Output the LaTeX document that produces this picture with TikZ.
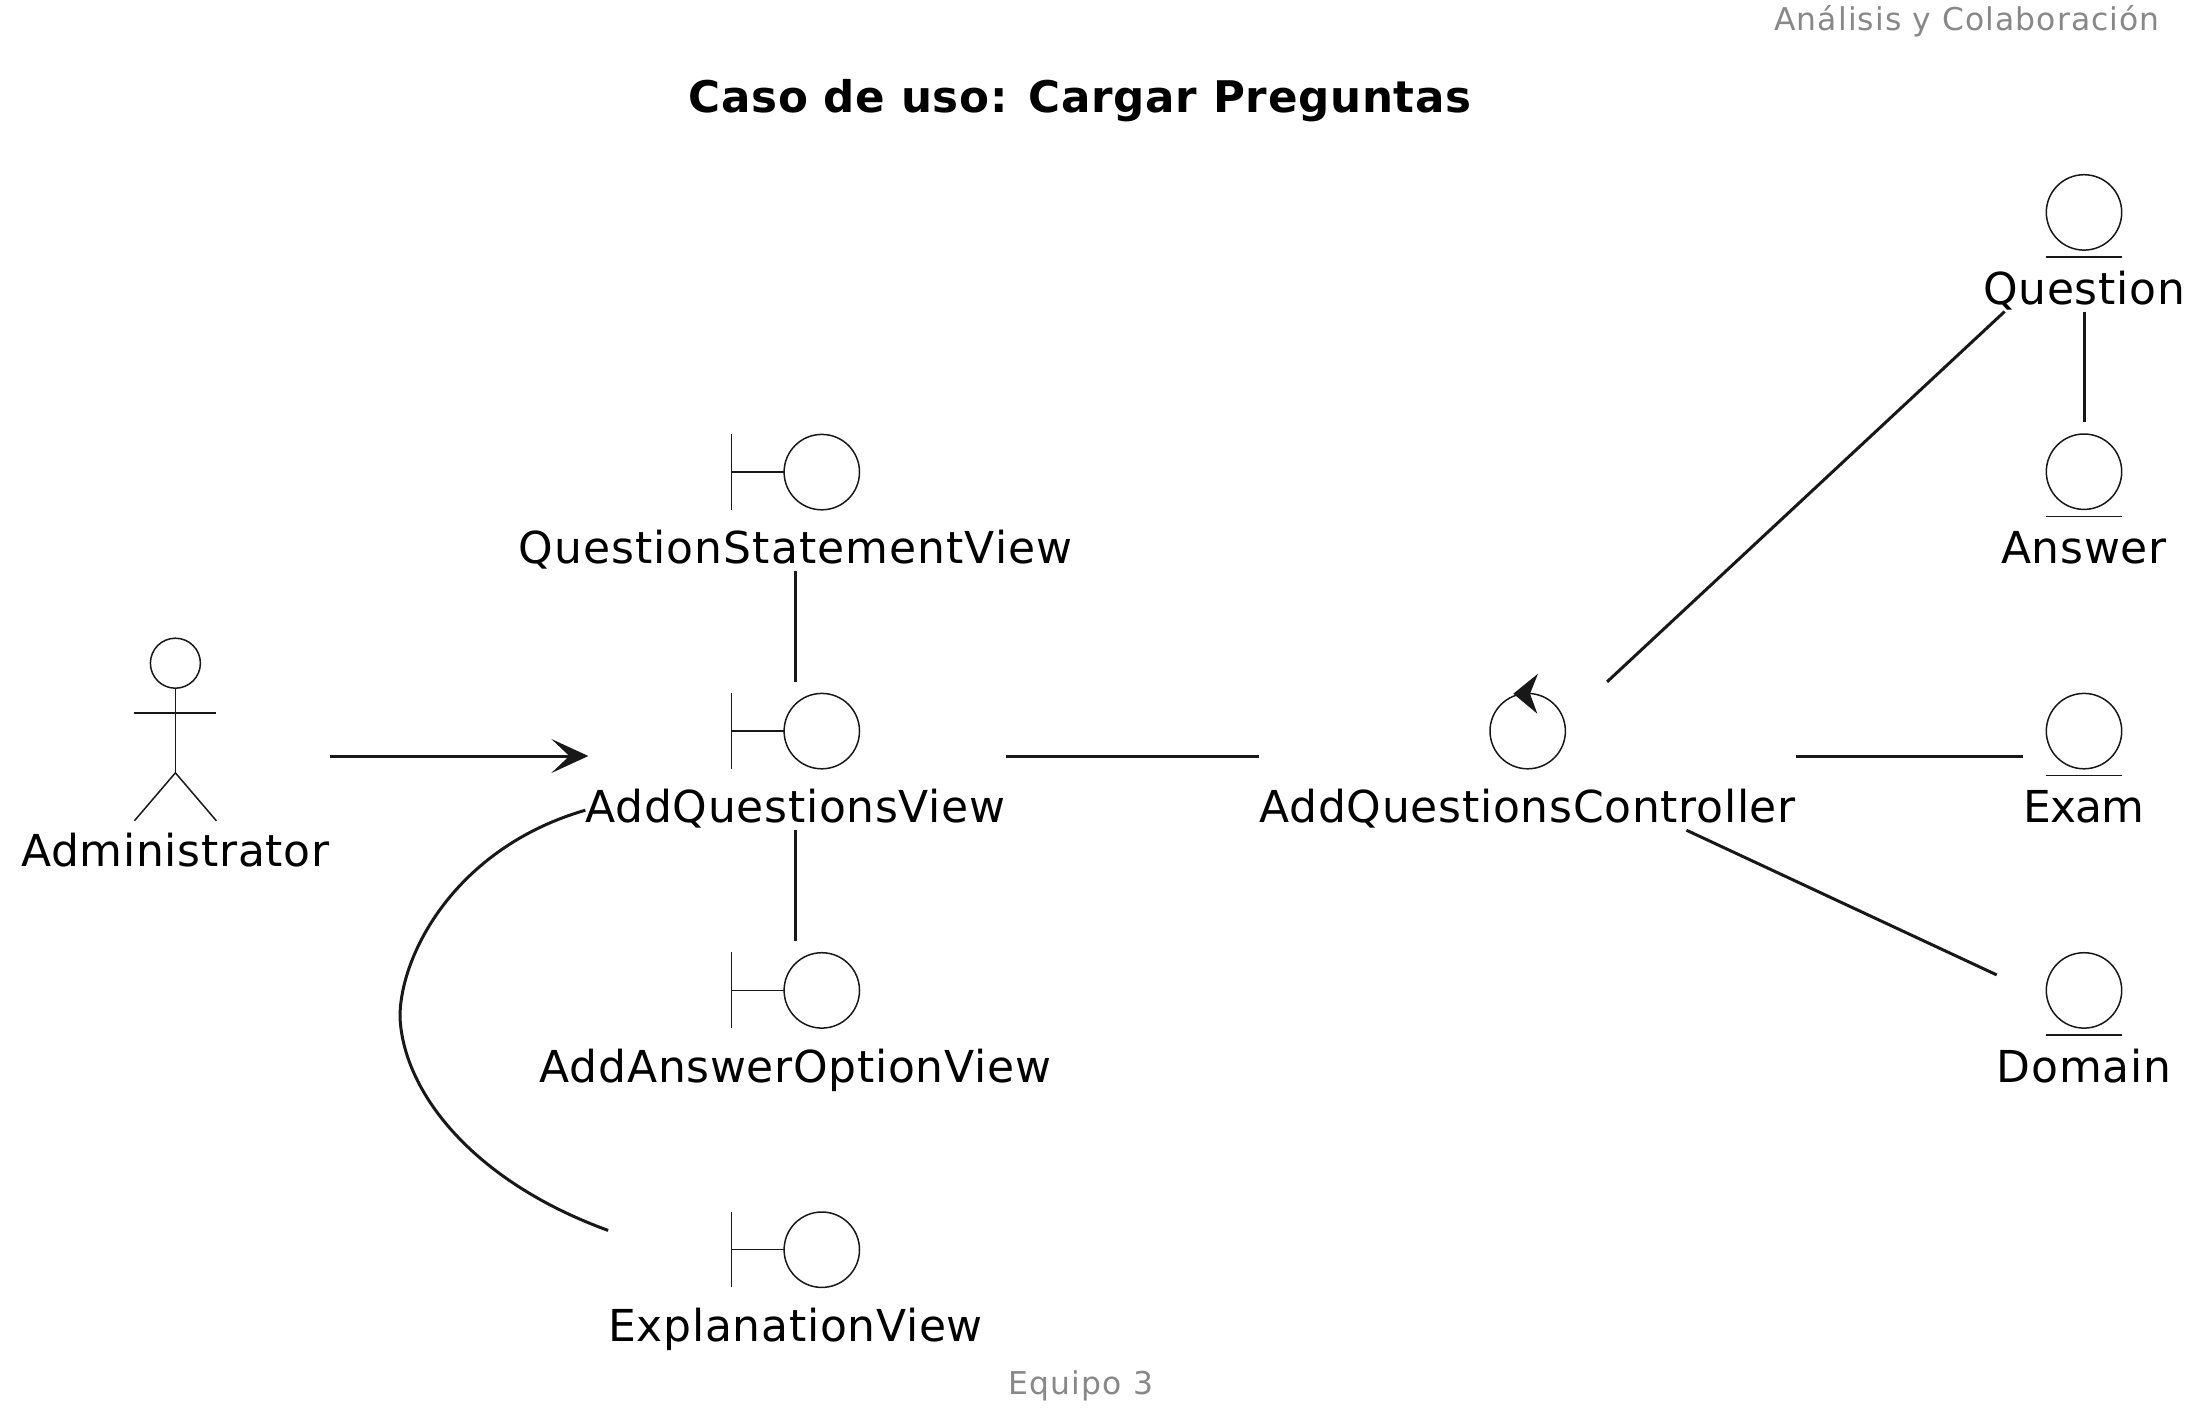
\documentclass[tikz,border=0pt]{standalone}
\usepackage{fontspec}
\setmainfont{DejaVu Sans}[LetterSpace=1.6]
\usetikzlibrary{arrows.meta}
\definecolor{umlline}{HTML}{181818}
\definecolor{umlgray}{HTML}{888888}
\tikzset{
    elem/.style={inner sep=0pt, font=\fontsize{44}{50}\selectfont, text height=140.7pt, text depth=7.3pt},
    actorelem/.style={elem, text height=229.3pt, text depth=9.3pt},
    conn/.style={color=umlline, line width=3pt},
    iconline/.style={color=umlline, line width=1.5pt},
    hint/.style={inner sep=0pt, color=umlgray, font=\fontsize{31.4}{36}\selectfont\addfontfeature{LetterSpace=3.5}},
    titletext/.style={inner sep=0pt, font=\fontsize{43.6}{52}\selectfont\bfseries},
}

\begin{document}
\begin{tikzpicture}[x=1pt,y=-1pt]
        \useasboundingbox (0,0) rectangle (2203,1422);
        \node[hint,anchor=base east] (header) at (2160,30) {Análisis y Colaboración};
        \node[titletext,anchor=base] (title) at (1080,112) {Caso de uso: Cargar Preguntas};
        \node[hint,anchor=base] (footer) at (1081,1394) {Equipo 3};

        \node[actorelem] (administrator) at (175.4,756) {Administrator};
        \node[elem] (statementview) at (795.5,497) {\addfontfeature{LetterSpace=2.4}QuestionStatementView};
        \node[elem] (addview) at (795.5,756) {AddQuestionsView};
        \node[elem] (answerview) at (795.5,1015.3) {AddAnswerOptionView};
        \node[elem] (explanationview) at (795.5,1274.6) {ExplanationView};
        \node[elem] (controller) at (1527.7,756) {AddQuestionsController};
        \node[elem] (question) at (2084,237.3) {Question};
        \node[elem] (answer) at (2084,496.6) {Answer};
        \node[elem] (exam) at (2084,756) {\addfontfeature{LetterSpace=-2}Exam};
        \node[elem] (domain) at (2084,1015.3) {Domain};

        \draw[iconline] ([yshift=-26.7pt]administrator.north) circle (25pt);
        \draw[iconline] ([yshift=-51.7pt]administrator.north) -- ([yshift=-136.3pt]administrator.north);
        \draw[iconline] ([shift={(-41pt,-76.3pt)}]administrator.north) -- ([shift={(41pt,-76.3pt)}]administrator.north);
        \draw[iconline] ([shift={(-41pt,-184.3pt)}]administrator.north) -- ([yshift=-136.3pt]administrator.north) -- ([shift={(41pt,-184.3pt)}]administrator.north);

        \foreach \n in {statementview,addview,answerview,explanationview} {
            \draw[iconline] ([shift={(26.3pt,-49.3pt)}]\n.north) circle (37.7pt);
            \draw[iconline] ([shift={(-64pt,-11.3pt)}]\n.north) -- ([shift={(-64pt,-87pt)}]\n.north);
            \draw[iconline] ([shift={(-64pt,-49.3pt)}]\n.north) -- ([shift={(-11.4pt,-49.3pt)}]\n.north);
        }
        \foreach \n in {question,answer,exam,domain} {
            \draw[iconline] ([yshift=-49.3pt]\n.north) circle (37.7pt);
            \draw[iconline] ([shift={(-38.2pt,-93.9pt)}]\n.north) -- ([shift={(38.2pt,-93.9pt)}]\n.north);
        }
        \draw[iconline] ([yshift=-49.3pt]controller.north) circle (37.7pt);
        \fill[umlline] ([shift={(-14.4pt,-11.9pt)}]controller.north) -- ([shift={(10.3pt,8.1pt)}]controller.north)
            -- ([shift={(2.3pt,-11.9pt)}]controller.north) -- ([shift={(9.6pt,-31.9pt)}]controller.north) -- cycle;

        \draw[conn,shorten >=-3pt,-{Stealth[length=37pt,width=34pt,inset=18pt]}] (administrator) -- (addview);
        \draw[conn] (statementview) -- (addview);
        \draw[conn] (addview) -- (answerview);
        \draw[conn] ([yshift=20pt]addview.south west) .. controls (455,848) and (400,955) .. (400,1017)
            .. controls (403,1090) and (470,1180) .. ([yshift=-30pt]explanationview.north west);
        \draw[conn] (addview) -- (controller);
        \draw[conn] (controller) -- (question);
        \draw[conn] (question) -- (answer);
        \draw[conn] (controller) -- (exam);
        \draw[conn] (controller) -- (domain);
    \end{tikzpicture}
\end{document}
